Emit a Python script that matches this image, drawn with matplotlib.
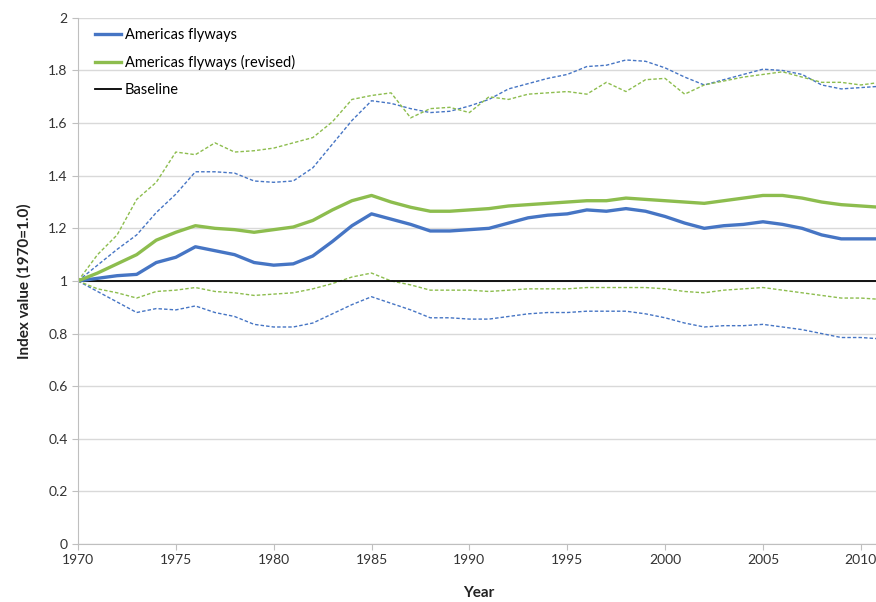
import numpy as np
import matplotlib.pyplot as plt

plt.rcParams['font.family'] = ['Lato', 'DejaVu Sans']

years = np.arange(1970, 2012)

americas = [1.0, 1.01, 1.02, 1.025, 1.07, 1.09, 1.13, 1.115, 1.10, 1.07,
            1.06, 1.065, 1.095, 1.15, 1.21, 1.255, 1.235, 1.215, 1.19, 1.19,
            1.195, 1.20, 1.22, 1.24, 1.25, 1.255, 1.27, 1.265, 1.275, 1.265,
            1.245, 1.22, 1.20, 1.21, 1.215, 1.225, 1.215, 1.20, 1.175, 1.16,
            1.16, 1.16]
americas_hi = [1.0, 1.06, 1.12, 1.175, 1.26, 1.33, 1.415, 1.415, 1.41, 1.38,
               1.375, 1.38, 1.43, 1.52, 1.61, 1.685, 1.675, 1.655, 1.64, 1.645,
               1.665, 1.69, 1.73, 1.75, 1.77, 1.785, 1.815, 1.82, 1.84, 1.835,
               1.81, 1.775, 1.745, 1.765, 1.785, 1.805, 1.80, 1.785, 1.745, 1.73,
               1.735, 1.74]
americas_lo = [1.0, 0.96, 0.92, 0.88, 0.895, 0.89, 0.905, 0.88, 0.865, 0.835,
               0.825, 0.825, 0.84, 0.875, 0.91, 0.94, 0.915, 0.89, 0.86, 0.86,
               0.855, 0.855, 0.865, 0.875, 0.88, 0.88, 0.885, 0.885, 0.885, 0.875,
               0.86, 0.84, 0.825, 0.83, 0.83, 0.835, 0.825, 0.815, 0.80, 0.785,
               0.785, 0.78]

revised = [1.0, 1.03, 1.065, 1.10, 1.155, 1.185, 1.21, 1.20, 1.195, 1.185,
           1.195, 1.205, 1.23, 1.27, 1.305, 1.325, 1.30, 1.28, 1.265, 1.265,
           1.27, 1.275, 1.285, 1.29, 1.295, 1.30, 1.305, 1.305, 1.315, 1.31,
           1.305, 1.30, 1.295, 1.305, 1.315, 1.325, 1.325, 1.315, 1.30, 1.29,
           1.285, 1.28]
revised_hi = [1.0, 1.10, 1.175, 1.31, 1.375, 1.49, 1.48, 1.525, 1.49, 1.495,
              1.505, 1.525, 1.545, 1.605, 1.69, 1.705, 1.715, 1.62, 1.655, 1.66,
              1.64, 1.70, 1.69, 1.71, 1.715, 1.72, 1.71, 1.755, 1.72, 1.765,
              1.77, 1.71, 1.745, 1.76, 1.775, 1.785, 1.795, 1.775, 1.755, 1.755,
              1.745, 1.755]
revised_lo = [1.0, 0.97, 0.955, 0.935, 0.96, 0.965, 0.975, 0.96, 0.955, 0.945,
              0.95, 0.955, 0.97, 0.99, 1.015, 1.03, 1.0, 0.985, 0.965, 0.965,
              0.965, 0.96, 0.965, 0.97, 0.97, 0.97, 0.975, 0.975, 0.975, 0.975,
              0.97, 0.96, 0.955, 0.965, 0.97, 0.975, 0.965, 0.955, 0.945, 0.935,
              0.935, 0.93]

blue = '#4675C4'
green = '#8DBD4E'

fig = plt.figure(figsize=(8.76, 6.02), dpi=100)
ax = fig.add_axes([0.089, 0.0963, 0.916, 0.874])

ax.plot(years, americas_hi, color=blue, lw=1, ls=(0, (2.5, 1.5)))
ax.plot(years, americas_lo, color=blue, lw=1, ls=(0, (2.5, 1.5)))
ax.plot(years, revised_hi, color=green, lw=1, ls=(0, (2.5, 1.5)))
ax.plot(years, revised_lo, color=green, lw=1, ls=(0, (2.5, 1.5)))
ax.axhline(1.0, color='black', lw=1.3, label='Baseline', zorder=2)
ax.plot(years, americas, color=blue, lw=2.4, label='Americas flyways')
ax.plot(years, revised, color=green, lw=2.4, label='Americas flyways (revised)')

ax.set_xlim(1970, 2011)
ax.set_ylim(0, 2)
ax.set_xticks(np.arange(1970, 2011, 5))
ax.set_yticks(np.arange(0, 2.01, 0.2))
ax.set_yticklabels(['0', '0.2', '0.4', '0.6', '0.8', '1', '1.2', '1.4', '1.6', '1.8', '2'])
ax.grid(axis='y', color='#D9D9D9', lw=1)
ax.set_axisbelow(True)
for s in ['top', 'right']:
    ax.spines[s].set_visible(False)
for s in ['left', 'bottom']:
    ax.spines[s].set_color('#BFBFBF')
ax.tick_params(axis='x', colors='#BFBFBF', length=4, labelcolor='#333333', labelsize=10)
ax.tick_params(axis='y', colors='#BFBFBF', length=4, labelcolor='#333333', labelsize=10)

ax.set_xlabel('Year', fontweight='bold', fontsize=11, color='#222222', labelpad=14)
ax.set_ylabel('Index value (1970=1.0)', fontweight='bold', fontsize=11, color='#222222', labelpad=12)

h, l = ax.get_legend_handles_labels()
order = [1, 2, 0]
ax.legend([h[i] for i in order], [l[i] for i in order], loc='upper left',
          bbox_to_anchor=(0.005, 1.006), frameon=False, fontsize=10.5,
          handlelength=1.8, labelspacing=0.9, handletextpad=0.25)

fig.savefig('out.png', dpi=100)
